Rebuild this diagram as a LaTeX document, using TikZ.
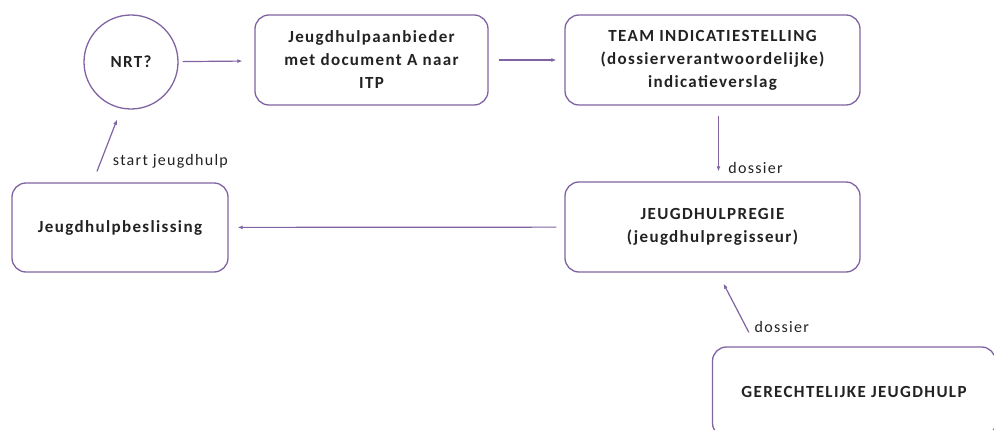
\documentclass[tikz,border=0pt]{standalone}
\usepackage{fontspec}
\setmainfont{Carlito}[LetterSpace=8]
\usepackage{xcolor}
\usepackage{tikz}
\usetikzlibrary{arrows.meta}
\definecolor{paars}{HTML}{8064A2}
\definecolor{tekst}{HTML}{222222}
\tikzset{
  blok/.style={draw=paars,line width=1.3pt,rounded corners=14pt,align=center,
    font=\fontsize{17}{23}\selectfont\bfseries,text=tekst},
  pijl/.style={draw=paars,line width=1.2pt,-{Latex[length=5pt,width=4pt]}},
  lbl/.style={font=\fontsize{16}{18}\selectfont,text=tekst}
}

\begin{document}
\begin{tikzpicture}[x=1pt,y=-1pt]
        \clip (0,0) rectangle (994,430);
        \node[blok,shape=circle,minimum size=94pt,inner sep=0pt,rounded corners=0pt] (N) at (131,62){NRT?};
        \node[blok,minimum width=233pt,minimum height=90pt] (A) at (371.5,60){Jeugdhulpaanbieder\\met document A naar\\ITP};
        \node[blok,minimum width=295pt,minimum height=90pt] (T) at (712.5,60){TEAM INDICATIESTELLING\\(dossierverantwoordelijke)\\indicatieverslag};
        \node[blok,minimum width=295pt,minimum height=90pt] (R) at (712.5,227){JEUGDHULPREGIE\\(jeugdhulpregisseur)};
        \node[blok,minimum width=216pt,minimum height=89pt] (B) at (120,227.5){Jeugdhulpbeslissing};
        \node[blok,minimum width=283pt,minimum height=90pt] (G) at (854,392){GERECHTELIJKE JEUGDHULP};
        \draw [pijl,shorten <=4pt,shorten >=12pt](N) -- (A);
        \draw [pijl,shorten <=10pt,shorten >=8pt](A) -- (T);
        \draw [pijl,shorten <=10pt,shorten >=10pt]([xshift=6pt]T.south) -- node[lbl,pos=0.82,right,xshift=6pt]{dossier} ([xshift=6pt]R.north);
        \draw [pijl,shorten <=8pt,shorten >=9pt](R) -- (B);
        \draw [pijl]([xshift=-23pt,yshift=11pt]B.north) -- node[lbl,pos=0.2,right,xshift=8pt]{start jeugdhulp} ([xshift=-14pt,yshift=-10pt]N.south);
        \draw [pijl]([xshift=37pt,yshift=14pt]G.north west) -- node[lbl,pos=0.12,right,xshift=5pt]{dossier} ([xshift=11pt,yshift=-11pt]R.south);
    \end{tikzpicture}
\end{document}
